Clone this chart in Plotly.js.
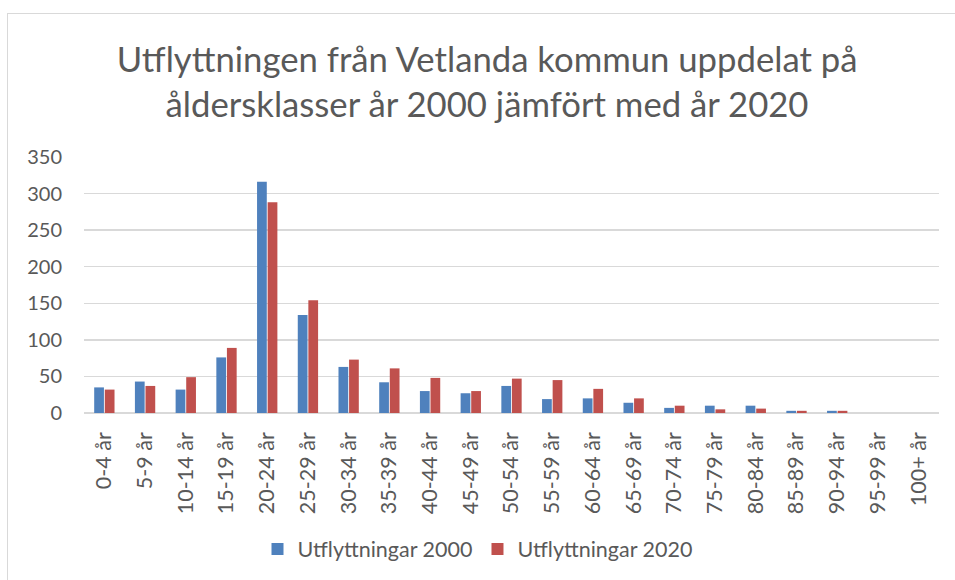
<!DOCTYPE html>
<html>
<head>
<meta charset="utf-8">
<script src="https://cdn.plot.ly/plotly-3.0.1.min.js"></script>
<style>
html,body{margin:0;padding:0;background:#fff;}
#frame{position:absolute;left:7px;top:13px;width:960px;height:580px;border:1px solid #d9d9d9;box-sizing:border-box;pointer-events:none;}
#chart{position:absolute;left:0;top:0;width:955px;height:580px;}
</style>
</head>
<body>
<div id="frame"></div>
<div id="chart"></div>
<script>
const categories = ["0-4 år","5-9 år","10-14 år","15-19 år","20-24 år","25-29 år","30-34 år","35-39 år","40-44 år","45-49 år","50-54 år","55-59 år","60-64 år","65-69 år","70-74 år","75-79 år","80-84 år","85-89 år","90-94 år","95-99 år","100+ år"];
const utfl2000 = [35,43,32,76,316,134,63,42,30,27,37,19,20,14,7,10,10,3,3,0,0];
const utfl2020 = [32,37,49,89,288,154,73,61,48,30,47,45,33,20,10,5,6,3,3,0,0];
const yTicks = [0,50,100,150,200,250,300,350];

const font = "Lato, 'Open Sans', sans-serif";
const traces = [
  {type:'bar', name:'Utflyttningar 2000', x:categories, y:utfl2000, marker:{color:'#4F81BD'}},
  {type:'bar', name:'Utflyttningar 2020', x:categories, y:utfl2020, marker:{color:'#C0504D'}}
];
const layout = {
  width:955, height:580,
  margin:{l:84, r:16, t:157, b:167},
  paper_bgcolor:'rgba(0,0,0,0)', plot_bgcolor:'rgba(0,0,0,0)',
  barmode:'group', bargap:0.48, bargroupgap:0.08,
  title:{text:'Utflyttningen från Vetlanda kommun uppdelat på<br>åldersklasser år 2000 jämfört med år 2020',
         font:{family:font, size:34.7, color:'#595959'}, x:0.51, xanchor:'center', y:0.876, yanchor:'middle'},
  xaxis:{tickangle:-90, tickfont:{family:font, size:21.5, color:'#595959'}, showgrid:false,
         showline:false, ticks:'', fixedrange:true, automargin:false, ticklabelstandoff:14},
  yaxis:{range:[0,350], tickvals:yTicks, ticktext:yTicks.map(String), automargin:false,
         tickfont:{family:font, size:20, color:'#595959'}, gridcolor:'#d9d9d9', gridwidth:1.5,
         zeroline:true, zerolinecolor:'#d9d9d9', zerolinewidth:1.5, showline:false, ticks:'', ticklen:0, ticklabelstandoff:21},
  legend:{orientation:'h', x:0.5, xref:'container', xanchor:'center', y:0.0534, yref:'container', yanchor:'middle',
          font:{family:font, size:21.5, color:'#595959'}, itemwidth:30, traceorder:'normal'},
  showlegend:true
};
Plotly.newPlot('chart', traces, layout, {displayModeBar:false, staticPlot:true});
</script>
</body>
</html>
